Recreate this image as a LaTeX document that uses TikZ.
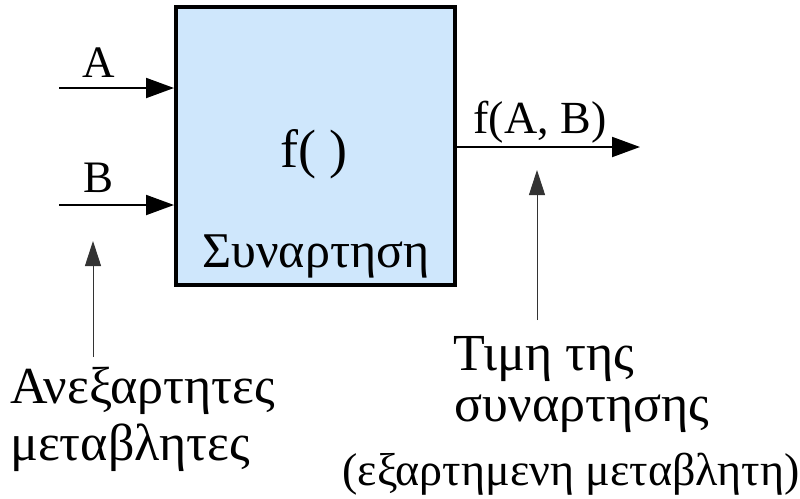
\documentclass[tikz,border=0pt]{standalone}
\usepackage{fontspec}
\setmainfont{Liberation Serif}
\usetikzlibrary{arrows.meta}
\definecolor{boxfill}{RGB}{207,231,252}
\tikzset{
  x=1pt, y=-1pt,
  bigtip/.style={-{Triangle[length=28pt,width=20pt]}},
  smalltip/.style={-{Triangle[length=25pt,width=16pt]}},
  inarrow/.style={bigtip, line width=2pt},
  uparrow/.style={smalltip, line width=1pt, draw=black!80},
  lbl/.style={anchor=base, inner sep=0pt, font=\fontsize{45}{50}\selectfont},
  greek/.style={anchor=base, inner sep=0pt, font=\fontsize{52}{58}\selectfont},
  fbox/.style={draw, line width=4pt, fill=boxfill, minimum width=279pt, minimum height=278pt, inner sep=0pt}
}
\begin{document}
\begin{tikzpicture}
\useasboundingbox (0,0) rectangle (800,498);
\node[fbox] (box) at (315.5,146) {};
\node[lbl, font=\fontsize{54}{60}\selectfont] (fn) at (314,167) {f( )};
\node[greek, font=\fontsize{50}{56}\selectfont] (syn) at (316,267) {Συναρτηση};
% inputs
\coordinate (sa) at (59,88);
\coordinate (sb) at (59,205);
\draw[inarrow] (sa) -- (sa -| box.west);
\draw[inarrow] (sb) -- (sb -| box.west);
\node[lbl] (la) at (99,77) {A};
\node[lbl] (lb) at (99,192) {B};
% output
\coordinate (oe) at (640,147);
\draw[inarrow] (oe -| box.east) -- (oe);
\node[lbl, font=\fontsize{46}{52}\selectfont] (lf) at (540,133) {f(A, B)};
% pointers
\coordinate (ib) at (93,357);
\coordinate (it) at (93,241);
\draw[uparrow] (ib) -- (it);
\coordinate (ob) at (537,320);
\coordinate (ot) at (537,170);
\draw[uparrow] (ob) -- (ot);
% bottom texts
\node[greek, anchor=base west] (t1) at (10,403) {Ανεξαρτητες};
\node[greek, anchor=base west] (t2) at (10,460) {μεταβλητες};
\node[greek] (t3) at (544,370) {Τιμη της};
\node[greek] (t4) at (582,421) {συναρτησης};
\node[greek, font=\fontsize{46}{52}\selectfont] (t5) at (571,485) {(εξαρτημενη μεταβλητη)};
\end{tikzpicture}
\end{document}
